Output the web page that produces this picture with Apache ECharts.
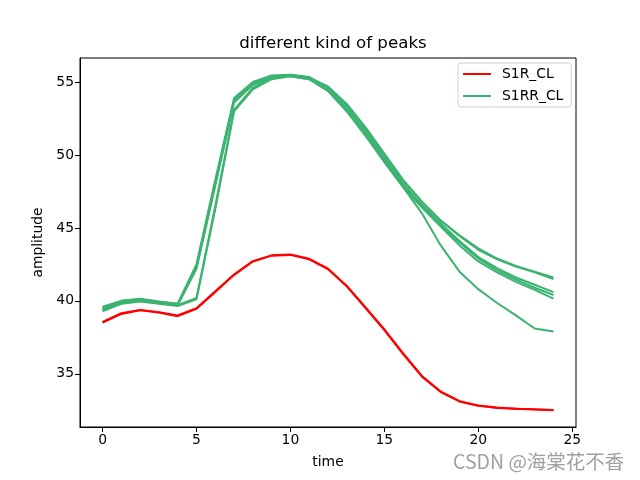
<!DOCTYPE html>
<html>
<head>
<meta charset="utf-8">
<script src="https://cdn.jsdelivr.net/npm/echarts@6/dist/echarts.min.js"></script>
<style>html,body{margin:0;padding:0;background:#fff;}#c{width:640px;height:480px;}</style>
</head>
<body>
<div id="c"></div>
<script>
const time = [0,1,2,3,4,5,6,7,8,9,10,11,12,13,14,15,16,17,18,19,20,21,22,23,24];
const xTicks = [0,5,10,15,20,25];
const yTicks = [35,40,45,50,55];

const s1r_a = [38.5,39.1,39.35,39.2,38.95,39.45,40.6,41.78,42.7,43.12,43.18,42.88,42.2,41.0,39.5,38.0,36.35,34.8,33.75,33.1,32.8,32.65,32.6,32.55,32.52];
const s1r_b = [38.55,39.15,39.38,39.22,39.0,39.5,40.65,41.8,42.72,43.1,43.15,42.85,42.18,41.02,39.55,38.05,36.4,34.85,33.78,33.12,32.82,32.68,32.6,32.56,32.5];

const s1rr_1 = [39.6,40.0,40.15,39.95,39.8,42.5,48.3,53.9,55.0,55.45,55.5,55.3,54.7,53.5,51.9,50.1,48.3,46.8,45.5,44.5,43.6,42.9,42.4,42.0,41.6];
const s1rr_2 = [39.4,39.9,40.05,39.85,39.7,40.2,46.5,53.1,54.6,55.3,55.5,55.35,54.6,53.4,51.8,50.0,48.2,46.8,45.5,44.45,43.5,42.85,42.35,41.95,41.5];
const s1rr_3 = [39.5,39.95,40.1,39.9,39.75,42.3,48.0,53.7,54.9,55.4,55.45,55.25,54.5,53.2,51.6,49.8,48.0,46.6,45.3,44.1,43.0,42.25,41.6,41.1,40.6];
const s1rr_4 = [39.3,39.85,40.0,39.85,39.7,42.2,47.9,53.6,54.8,55.3,55.4,55.2,54.4,53.0,51.4,49.6,47.9,46.5,45.2,44.0,42.9,42.1,41.45,40.9,40.4];
const s1rr_5 = [39.3,39.8,39.95,39.8,39.65,40.1,46.3,53.0,54.5,55.2,55.4,55.2,54.4,53.0,51.3,49.5,47.8,46.4,45.1,43.8,42.7,41.95,41.3,40.75,40.15];
const s1rr_6 = [39.5,40.0,40.1,39.9,39.8,42.4,48.1,53.8,54.9,55.35,55.45,55.3,54.5,53.2,51.6,49.7,47.8,46.0,43.8,42.0,40.8,39.85,39.0,38.1,37.9];

const redSets = [s1r_a, s1r_b];
const greenSets = [s1rr_1, s1rr_2, s1rr_3, s1rr_4, s1rr_5, s1rr_6];

function mk(name, color, arr) {
  return {
    name: name, type: 'line', symbol: 'none', showSymbol: false,
    data: time.map((t, i) => [t, arr[i]]),
    lineStyle: { color: color, width: 2 }, itemStyle: { color: color },
    animation: false, silent: true
  };
}
const series = [];
redSets.forEach(a => series.push(mk('S1R_CL', '#ff0000', a)));
greenSets.forEach(a => series.push(mk('S1RR_CL', '#3cb371', a)));

const font = 'DejaVu Sans';
const chart = echarts.init(document.getElementById('c'), null, { renderer: 'canvas' });
chart.setOption({
  animation: false,
  backgroundColor: '#fff',
  title: {
    text: 'different kind of peaks', left: 328, top: 30, textAlign: 'center',
    textStyle: { fontFamily: font, fontSize: 16.67, fontWeight: 'normal', color: '#000' }
  },
  legend: {
    data: ['S1R_CL', 'S1RR_CL'], orient: 'vertical', left: 458, top: 63,
    icon: 'rect', itemWidth: 28, itemHeight: 2, itemGap: 8,
    padding: [4, 8, 4, 5],
    borderColor: '#d0d0d0', borderWidth: 1, borderRadius: 3,
    textStyle: { fontFamily: font, fontSize: 13.9, color: '#000', padding: [0, 0, 0, 6] }
  },
  grid: { left: 80, right: 64, top: 58, bottom: 53, show: true, borderColor: '#000', borderWidth: 1, backgroundColor: 'transparent' },
  xAxis: {
    type: 'value', min: -1.2, max: 25.2,
    name: 'time', nameLocation: 'middle', nameGap: 28,
    nameTextStyle: { fontFamily: font, fontSize: 13.9, color: '#000' },
    axisLine: { show: true, onZero: false, lineStyle: { color: '#000', width: 1 } },
    axisTick: { show: true, length: 5, customValues: xTicks, lineStyle: { color: '#000' } },
    axisLabel: { customValues: xTicks, fontFamily: font, fontSize: 13.9, color: '#000', margin: 6 },
    splitLine: { show: false }
  },
  yAxis: {
    type: 'value', min: 31.35, max: 56.65,
    name: 'amplitude', nameLocation: 'middle', nameGap: 33, nameRotate: 90,
    nameTextStyle: { fontFamily: font, fontSize: 13.9, color: '#000' },
    axisLine: { show: true, onZero: false, lineStyle: { color: '#000', width: 1 } },
    axisTick: { show: true, length: 5, customValues: yTicks, lineStyle: { color: '#000' } },
    axisLabel: { customValues: yTicks, fontFamily: font, fontSize: 13.9, color: '#000', margin: 6 },
    splitLine: { show: false }
  },
  series: series,
  graphic: [{
    type: 'text', left: 453, top: 452,
    style: { text: 'CSDN @海棠花不香', font: '19.5px "Noto Sans CJK SC", sans-serif', fill: '#a0a0a0' },
    silent: true
  }]
});
</script>
</body>
</html>
